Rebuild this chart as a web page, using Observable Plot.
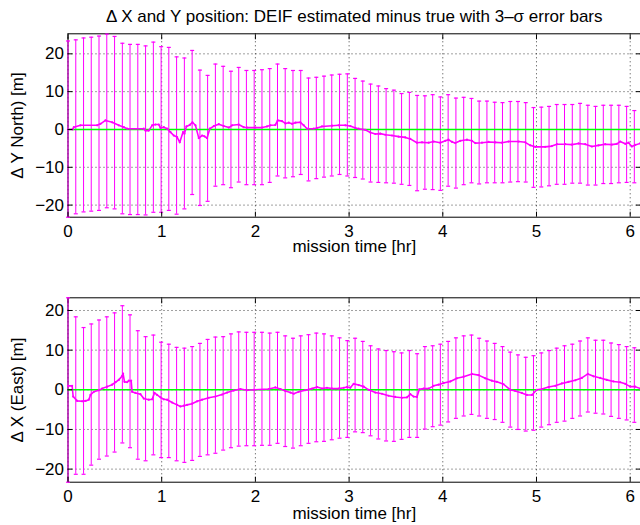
<!DOCTYPE html>
<html><head><meta charset="utf-8">
<script src="https://cdn.jsdelivr.net/npm/d3@7"></script>
<script src="https://cdn.jsdelivr.net/npm/@observablehq/plot@0.6"></script>
<style>
body{margin:0;background:#fff;}
#wrap{position:relative;width:640px;height:525px;overflow:hidden;background:#fff;}
#wrap svg{position:absolute;left:0;}
</style></head><body><div id="wrap"></div>
<script>
const title = "Δ X and Y position: DEIF estimated minus true with 3–σ error bars";
const xLabel = "mission time [hr]";
const yLabelTop = "Δ Y North) [m]";
const yLabelBottom = "Δ X (East) [m]";
const xTicks = [0, 1, 2, 3, 4, 5, 6];
const yTicks = [-20, -10, 0, 10, 20];
const xDomain = [0, 6.11];
const yDomainTop = [-23.2, 25.3];
const yDomainBottom = [-23.3, 23.2];
const zeroLine = [0];

const barTimes = [0, 0.083, 0.166, 0.248, 0.331, 0.414, 0.497, 0.580, 0.662, 0.745, 0.828, 0.911, 0.994, 1.076, 1.159, 1.242, 1.325, 1.408, 1.490, 1.573, 1.656, 1.739, 1.822, 1.904, 1.987, 2.070, 2.153, 2.236, 2.318, 2.401, 2.484, 2.567, 2.650, 2.732, 2.815, 2.898, 2.981, 3.064, 3.146, 3.229, 3.312, 3.395, 3.478, 3.560, 3.643, 3.726, 3.809, 3.892, 3.974, 4.057, 4.140, 4.223, 4.306, 4.388, 4.471, 4.554, 4.637, 4.720, 4.802, 4.885, 4.968, 5.051, 5.134, 5.216, 5.299, 5.382, 5.465, 5.548, 5.630, 5.713, 5.796, 5.879, 5.962, 6.044];

const northHi = [23.4, 23.7, 24.2, 24.4, 24.7, 25.2, 24.6, 22.8, 22.5, 22.5, 22.1, 23.1, 21.9, 21.7, 19.2, 18.9, 20.9, 15.7, 14.3, 17.3, 16.7, 15.4, 16.4, 15.6, 15.6,
  15.8, 16.1, 17.3, 16.1, 15.6, 15.6, 13.6, 13.8, 14.1, 14.4, 14.6, 14.7, 13.5, 12.8, 12.0, 11.5, 10.8, 10.4, 9.5, 9.8, 9.0, 8.9, 9.2, 8.6,
  9.2, 8.3, 8.5, 8.2, 7.5, 7.5, 7.2, 7.1, 7.4, 7.4, 7.1, 5.8, 5.9, 6.1, 6.6, 6.6, 6.6, 6.9, 6.4, 6.1, 6.4, 6.4, 6.4, 6.1, 5.0];
const northLo = [-23.2, -22.3, -21.8, -21.6, -21.4, -20.7, -21.0, -22.3, -22.5, -22.5, -22.6, -21.9, -21.9, -21.4, -22.4, -21.0, -17.2, -20.1, -19.0, -15.0, -14.6, -15.4, -13.9, -14.6, -14.6,
  -14.6, -14.0, -12.3, -12.8, -12.5, -11.9, -13.6, -13.0, -12.6, -12.3, -11.9, -12.3, -12.7, -13.1, -13.9, -14.0, -14.1, -14.2, -14.5, -14.8, -16.2, -15.8, -15.9, -16.1,
  -15.0, -15.5, -14.6, -14.1, -14.4, -14.1, -14.1, -14.1, -13.9, -13.8, -13.9, -15.3, -15.2, -14.9, -14.5, -14.5, -14.2, -14.2, -14.7, -14.7, -14.3, -14.3, -14.1, -14.0, -14.1];

const eastHi = [23.2, 18.4, 15.7, 16.6, 17.6, 18.4, 19.4, 21.2, 18.9, 14.9, 13.4, 13.8, 12.0, 11.5, 10.7, 10.5, 10.9, 11.7, 12.7, 13.3, 13.4, 14.1, 14.6, 14.5, 14.5,
  14.5, 14.3, 14.5, 13.6, 13.0, 13.6, 13.9, 14.3, 14.1, 13.6, 13.1, 12.4, 13.0, 12.2, 11.1, 10.3, 9.9, 9.6, 9.3, 9.9, 9.1, 10.9, 11.1, 11.5,
  12.2, 13.1, 13.6, 13.8, 13.0, 12.3, 11.7, 10.9, 9.5, 8.8, 8.2, 8.6, 9.3, 9.9, 10.5, 11.1, 11.5, 12.3, 13.1, 12.5, 12.5, 11.8, 11.4, 10.9, 10.6];
const eastLo = [-23.3, -21.3, -21.3, -19.0, -17.5, -16.7, -15.7, -13.4, -14.6, -17.5, -17.9, -16.4, -17.1, -17.1, -17.9, -18.3, -17.8, -16.8, -16.4, -16.0, -15.2, -14.6, -14.2, -14.1, -14.1,
  -14.0, -14.0, -13.5, -14.3, -14.7, -14.1, -13.5, -13.1, -13.0, -12.6, -12.2, -12.0, -10.6, -10.8, -11.6, -12.4, -12.9, -13.0, -12.5, -12.0, -12.0, -9.9, -9.3, -8.9,
  -8.1, -7.2, -6.6, -6.2, -6.6, -7.2, -7.5, -8.2, -9.4, -10.0, -10.4, -10.2, -9.4, -8.8, -8.2, -7.9, -7.2, -6.6, -5.6, -5.9, -6.1, -6.7, -7.2, -7.6, -8.2];

const northLineT = [0, 0.05, 0.062, 0.133, 0.311, 0.347, 0.40, 0.471, 0.542, 0.596, 0.631, 0.809, 0.827, 0.862, 0.898, 0.933, 0.969, 0.987, 1.022, 1.058, 1.093, 1.129, 1.164, 1.193, 1.228, 1.243, 1.264, 1.300, 1.328, 1.360, 1.396, 1.431, 1.456, 1.484, 1.513, 1.556, 1.609, 1.662, 1.716, 1.751, 1.822, 1.876, 1.911, 2.0,
  2.071, 2.124, 2.16, 2.213, 2.238, 2.284, 2.32, 2.356, 2.391, 2.427, 2.48, 2.516, 2.551, 2.622, 2.658, 2.711, 2.818, 2.889, 2.96, 3.013, 3.067, 3.102, 3.173, 3.227, 3.28, 3.333, 3.387, 3.458, 3.529, 3.6, 3.653, 3.724, 3.778, 3.849, 3.902, 3.973,
  4.027, 4.06, 4.1, 4.133, 4.187, 4.258, 4.311, 4.347, 4.418, 4.489, 4.56, 4.631, 4.702, 4.809, 4.88, 4.933, 4.987, 5.093, 5.164, 5.218, 5.307, 5.378, 5.449, 5.52, 5.591, 5.662, 5.733, 5.804, 5.858, 5.893, 5.947, 5.982, 6.018, 6.053, 6.107];
const northLineV = [0, 0, 0.6, 1.1, 1.1, 1.5, 2.4, 1.9, 1.1, 0.6, 0.2, 0.2, -0.3, -0.3, 1.1, 1.3, 1.3, 0.4, 0.6, 0.2, -0.7, -1.6, -2.0, -3.4, -0.7, -1.1, 0.8, 1.2, 1.9, 1.1, -2.3, -1.6, -1.8, -2.3, 0.2, 0.9, 1.4, 0.9, 0.5, 1.1, 1.3, 0.6, 0.5, 0.5,
  0.5, 0.8, 1.1, 1.2, 2.4, 2.2, 1.6, 1.8, 1.5, 1.8, 1.9, 1.1, 0.2, 0.2, 0.4, 0.8, 1.0, 1.1, 1.1, 0.9, 0.4, 0.2, -0.1, -0.8, -1.2, -1.1, -1.4, -1.6, -1.9, -2.1, -2.5, -3.5, -3.4, -3.5, -3.2, -3.5,
  -3.0, -2.7, -3.3, -3.6, -3.0, -2.7, -3.0, -3.6, -3.5, -3.3, -3.4, -3.5, -3.2, -3.2, -3.4, -4.2, -4.6, -4.6, -4.4, -3.9, -3.9, -4.0, -3.7, -3.9, -4.5, -4.2, -3.9, -4.0, -3.8, -3.2, -3.8, -3.5, -4.5, -4.1, -3.7];

const eastLineT = [0, 0.044, 0.055, 0.098, 0.151, 0.187, 0.222, 0.24, 0.276, 0.329, 0.364, 0.418, 0.471, 0.507, 0.542, 0.578, 0.588, 0.603, 0.631, 0.649, 0.674, 0.684, 0.72, 0.773, 0.809, 0.862, 0.898, 0.923, 0.951, 0.987, 1.022, 1.058, 1.111, 1.164, 1.2, 1.236, 1.271, 1.324, 1.378, 1.431, 1.502, 1.573, 1.644, 1.698, 1.769, 1.84, 1.911, 1.982,
  2.142, 2.213, 2.267, 2.32, 2.373, 2.409, 2.462, 2.533, 2.604, 2.658, 2.711, 2.764, 2.818, 2.889, 2.942, 2.978, 3.013, 3.049, 3.102, 3.156, 3.209, 3.28, 3.351, 3.422, 3.493, 3.564, 3.618, 3.653, 3.689, 3.724, 3.749, 3.796, 3.849, 3.902, 3.956, 4.009,
  4.08, 4.151, 4.222, 4.311, 4.382, 4.453, 4.524, 4.578, 4.649, 4.72, 4.773, 4.844, 4.898, 4.951, 5.004, 5.058, 5.129, 5.2, 5.271, 5.342, 5.413, 5.484, 5.548, 5.609, 5.68, 5.751, 5.822, 5.893, 5.947, 6.0, 6.053, 6.107];
const eastLineV = [1.0, 1.0, -1.7, -2.8, -2.9, -2.8, -2.5, -1.3, -0.5, -0.1, 0.3, 0.8, 1.3, 1.9, 2.5, 3.5, 4.1, 2.0, 1.9, 2.3, 2.3, -0.5, -0.8, -1.1, -2.2, -2.5, -2.4, -0.8, -1.3, -1.9, -2.4, -2.5, -3.2, -3.8, -4.2, -4.0, -3.8, -3.5, -2.9, -2.5, -2.0, -1.7, -1.2, -0.7, -0.2, 0.2, -0.1, 0.0,
  0.2, 0.6, 0.2, -0.3, -0.7, -1.0, -0.5, -0.1, 0.3, 0.7, 0.3, 0.5, 0.3, 0.3, 0.5, 0.7, 0.5, 1.5, 1.2, 0.8, 0.0, -0.7, -1.0, -1.5, -1.8, -2.0, -1.9, -1.1, -1.7, -1.8, 0.1, 0.3, 0.3, 1.0, 1.3, 1.7,
  2.1, 2.9, 3.3, 4.0, 3.7, 2.9, 2.3, 2.0, 1.4, 0.0, -0.3, -0.8, -1.3, -1.3, 0.0, 0.2, 0.7, 1.0, 1.6, 2.0, 2.4, 3.0, 4.0, 3.4, 3.0, 2.5, 2.1, 1.9, 1.5, 0.8, 0.8, 0.3];

const MAG = "#ff00ff";
const GREEN = "#00ff00";
const FONT = "'Liberation Sans', Arial, Helvetica, sans-serif";
const capSymbol = {draw(ctx) { ctx.moveTo(-2, 0); ctx.lineTo(2, 0); }};
const intFmt = d3.format("d");

function panel({hi, lo, lineT, lineV, yDomain, yLabel, height, marginTop, marginBottom, xLabelDy, withTitle}) {
  const bars = barTimes.map((t, i) => ({t, hi: hi[i], lo: lo[i]}));
  const line = lineT.map((t, i) => ({t, v: lineV[i]}));
  const grid = {stroke: "#000", strokeOpacity: 0.75, strokeDasharray: "1,3"};
  const marks = [
    Plot.gridX(xTicks, grid),
    Plot.gridY(yTicks, grid),
    Plot.frame({stroke: "#000", strokeWidth: 1}),
    Plot.axisX({ticks: xTicks, anchor: "top", tickSize: -5, tickFormat: () => "", label: null}),
    Plot.axisY({ticks: yTicks, anchor: "right", tickSize: -5, tickFormat: () => "", label: null}),
    Plot.ruleX(bars, {x: "t", y1: "lo", y2: "hi", stroke: MAG, strokeWidth: 1}),
    Plot.dot(bars, {x: "t", y: "hi", symbol: capSymbol, stroke: MAG, fill: "none", strokeWidth: 1.2}),
    Plot.dot(bars, {x: "t", y: "lo", symbol: capSymbol, stroke: MAG, fill: "none", strokeWidth: 1.2}),
    Plot.ruleY(zeroLine, {stroke: GREEN, strokeWidth: 1.6}),
    Plot.line(line, {x: "t", y: "v", stroke: MAG, strokeWidth: 1.6}),
    Plot.dot(line, {x: "t", y: "v", r: 1.1, fill: MAG, stroke: "none"}),
    Plot.axisX({ticks: xTicks, anchor: "bottom", tickSize: -5, tickPadding: 13, tickFormat: intFmt, label: null, fontSize: 17}),
    Plot.axisY({ticks: yTicks, anchor: "left", tickSize: -5, tickPadding: 9, tickFormat: intFmt, label: null, fontSize: 17}),
    Plot.text([xLabel], {text: d => d, frameAnchor: "bottom", dy: xLabelDy, lineAnchor: "bottom", fontSize: 17, fill: "#000"}),
    Plot.text([yLabel], {text: d => d, frameAnchor: "left", rotate: -90, dx: -50.5, lineAnchor: "middle", textAnchor: "middle", fontSize: 17, fill: "#000"})
  ];
  if (withTitle) marks.push(Plot.text([title], {text: d => d, frameAnchor: "top", dy: -11.8, lineAnchor: "bottom", fontSize: 17, fill: "#000"}));
  return Plot.plot({
    width: 640, height, marginLeft: 67.5, marginRight: 0, marginTop, marginBottom,
    style: {fontFamily: FONT, fontSize: "17px", color: "#000", background: "transparent"},
    x: {domain: xDomain},
    y: {domain: yDomain},
    marks
  });
}

const wrap = document.getElementById("wrap");
const p1 = panel({hi: northHi, lo: northLo, lineT: northLineT, lineV: northLineV, yDomain: yDomainTop, yLabel: yLabelTop,
  height: 262, marginTop: 33.3, marginBottom: 45.3, xLabelDy: 35, withTitle: true});
p1.style.top = "0px";
wrap.appendChild(p1);
const p2 = panel({hi: eastHi, lo: eastLo, lineT: eastLineT, lineV: eastLineV, yDomain: yDomainBottom, yLabel: yLabelBottom,
  height: 263, marginTop: 35.3, marginBottom: 43.3, xLabelDy: 36.3, withTitle: false});
p2.style.top = "262px";
wrap.appendChild(p2);
</script></body></html>
